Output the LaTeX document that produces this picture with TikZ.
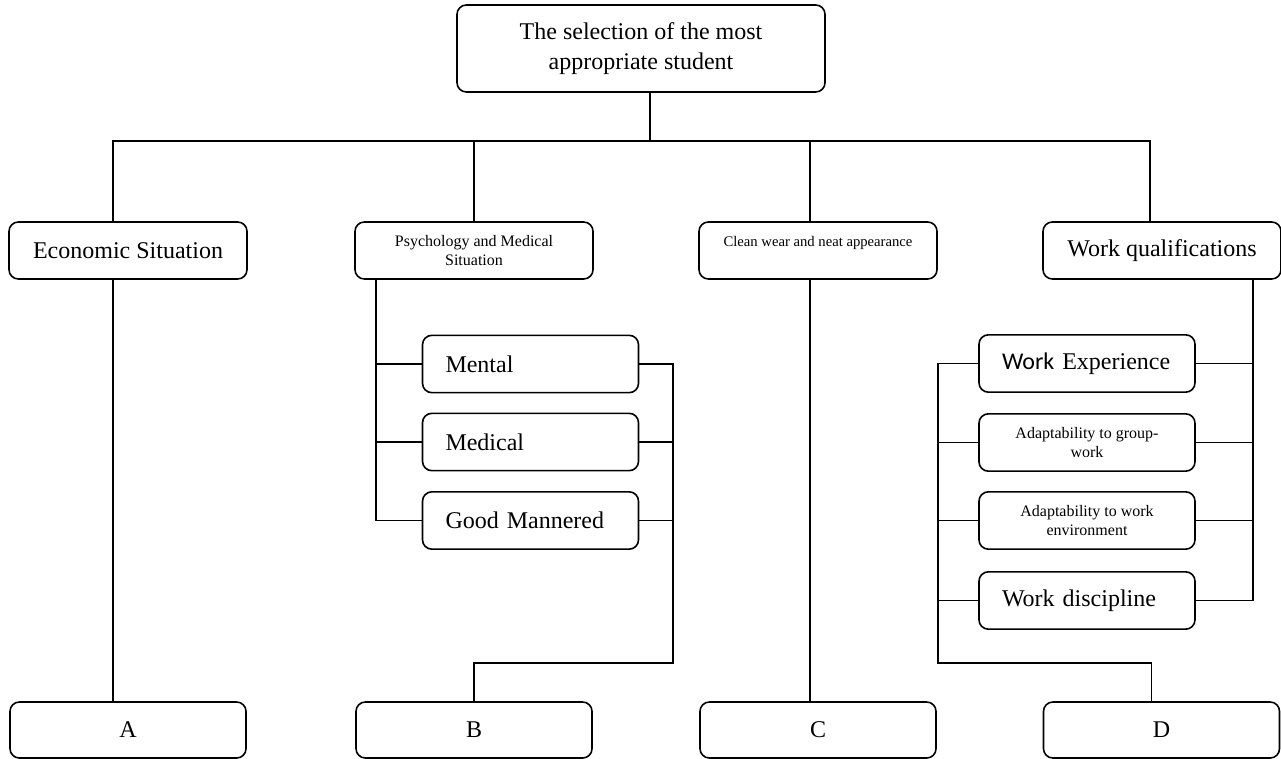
\documentclass[tikz,border=0pt]{standalone}
\usepackage{fontspec}
\setmainfont{Liberation Serif}
\newfontfamily\calibri{Carlito}
\usetikzlibrary{positioning}

\begin{document}
\begin{tikzpicture}[x=0.75pt, y=-0.75pt, line width=1.2pt]
\tikzstyle{box} = [rectangle, draw, rounded corners=7pt, align=center, inner sep=0pt]
\tikzstyle{big} = [font=\fontsize{18}{22.5}\selectfont]
\tikzstyle{small} = [font=\fontsize{12}{14.5}\selectfont]
\tikzstyle{goal} = [box, big, minimum width=276pt, minimum height=65.25pt]
\tikzstyle{crit} = [box, minimum width=178.5pt, minimum height=42.75pt]
\tikzstyle{sub} = [box, minimum width=162pt, minimum height=43pt]
\tikzstyle{subl} = [sub, big, align=left, text width=127.5pt, inner xsep=17.25pt]
\tikzstyle{alt} = [box, big, minimum width=177pt, minimum height=42pt]

\useasboundingbox (0,0) rectangle (1281,759);

\node [goal] (goal) at (641,48.5) {The selection of the most\\appropriate student};
\node [crit, big] (econ) at (128,250.5) {Economic Situation};
\node [crit, small] (psych) at (474,250.5) {Psychology and Medical\\Situation};
\node [crit, font=\fontsize{11}{13}\selectfont] (clean) at (818,250.5) {Clean wear and neat appearance\\[1pt]~};
\node [crit, big] (work) at (1162,250.5) {Work qualifications};

\node [subl] (mental) at (530.5,364) {Mental};
\node [subl] (medical) at (530.5,442) {Medical};
\node [subl] (manner) at (530.5,520.5) {Good Mannered};

\node [subl] (exper) at (1087,363.5) {{\calibri Work} Experience};
\node [sub, small] (group) at (1087,442.5) {Adaptability to group-\\work};
\node [sub, small] (envir) at (1087,520.5) {Adaptability to work\\environment};
\node [subl] (discip) at (1087,600.5) {Work discipline};

\node [alt] (A) at (128,730) {A};
\node [alt] (B) at (474,730) {B};
\node [alt] (C) at (818,730) {C};
\node [alt] (D) at (1161.5,730) {D};

\coordinate (bus) at (650,141);
\coordinate (jb) at (673,663);
\coordinate (jd) at (938,663);

\draw ([xshift=6.75pt]goal.south) -- (bus);
\draw ([xshift=-11.25pt]econ.north) |- (bus) -| ([xshift=-9pt]work.north);
\draw (psych.north) -- (psych.north |- bus);
\draw ([xshift=-6pt]clean.north) -- ++(0,-81);

\draw ([xshift=-11.25pt]econ.south) -- ([xshift=-11.25pt]A.north);
\draw ([xshift=-6pt]clean.south) -- ([xshift=-6pt]C.north);

\draw ([xshift=16.5pt]psych.south west) |- (manner.west);
\draw (mental.west) -- ++(-46,0);
\draw (medical.west) -- ++(-46,0);
\draw (mental.east) -| (jb) -| (B.north);
\draw (medical.east) -- ++(35,0);
\draw (manner.east) -- ++(35,0);

\draw ([xshift=-21.75pt]work.south east) |- (discip.east);
\draw (exper.east) -- ++(56,0);
\draw (group.east) -- ++(56,0);
\draw (envir.east) -- ++(56,0);
\draw (exper.west) -| (jd) -| ([xshift=-7.5pt]D.north);
\draw (group.west) -- ++(-41,0);
\draw (envir.west) -- ++(-41,0);
\draw (discip.west) -- ++(-41,0);

\end{tikzpicture}
\end{document}
